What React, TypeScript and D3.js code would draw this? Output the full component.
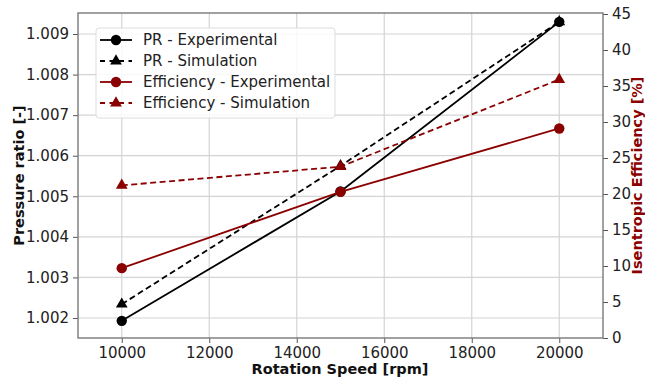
import React, { useEffect, useRef } from 'react';
import * as d3 from 'd3';

// data
const speeds = [10000, 15000, 20000];
const prExperimental = [1.00193, 1.00512, 1.0093];
const prSimulation = [1.00234, 1.00575, 1.0093];
const effExperimental = [9.7, 20.3, 29.1];
const effSimulation = [21.2, 23.8, 35.9];

const xTicks = [10000, 12000, 14000, 16000, 18000, 20000];
const prTicks = [1.002, 1.003, 1.004, 1.005, 1.006, 1.007, 1.008, 1.009];
const effTicks = [0, 5, 10, 15, 20, 25, 30, 35, 40, 45];

const legendLabels = ['PR - Experimental', 'PR - Simulation', 'Efficiency - Experimental', 'Efficiency - Simulation'];

const RED = '#8b0000';
const FONT = 'DejaVu Sans';

function App() {
	const ref = useRef<SVGSVGElement>(null);

	useEffect(() => {
		const svg = d3.select(ref.current);
		svg.selectAll('*').remove();

		const margin = { left: 78, right: 603, top: 13, bottom: 338 };

		const x = d3.scaleLinear().domain([9000, 21000]).range([margin.left, margin.right]);
		const yL = d3.scaleLinear().domain([1.001507, 1.009518]).range([margin.bottom, margin.top]);
		const yR = d3.scaleLinear().domain([0, 45.14]).range([margin.bottom, margin.top]);

		// grid
		const grid = svg.append('g');
		xTicks.forEach(t => {
			grid.append('line').attr('x1', x(t)).attr('x2', x(t)).attr('y1', margin.top).attr('y2', margin.bottom)
				.attr('stroke', '#d4d4d4').attr('stroke-width', 1.2);
		});
		prTicks.forEach(t => {
			grid.append('line').attr('x1', margin.left).attr('x2', margin.right).attr('y1', yL(t)).attr('y2', yL(t))
				.attr('stroke', '#d4d4d4').attr('stroke-width', 1.2);
		});

		// axes
		const bottomAxis = svg.append('g').attr('transform', `translate(0,${margin.bottom})`)
			.call(d3.axisBottom(x).tickValues(xTicks).tickFormat(d3.format('d')).tickSizeOuter(0).tickSize(5).tickPadding(4));
		const leftAxis = svg.append('g').attr('transform', `translate(${margin.left},0)`)
			.call(d3.axisLeft(yL).tickValues(prTicks).tickFormat(d3.format('.3f')).tickSizeOuter(0).tickSize(5).tickPadding(4));
		const rightAxis = svg.append('g').attr('transform', `translate(${margin.right},0)`)
			.call(d3.axisRight(yR).tickValues(effTicks).tickFormat(d3.format('d')).tickSizeOuter(0).tickSize(5).tickPadding(4));
		[bottomAxis, leftAxis, rightAxis].forEach(a => {
			a.selectAll('text').attr('font-family', FONT).attr('font-size', '15px').attr('fill', '#222');
			a.selectAll('line').attr('stroke', '#555');
			a.select('.domain').remove();
		});

		// frame
		svg.append('rect').attr('x', margin.left).attr('y', margin.top)
			.attr('width', margin.right - margin.left).attr('height', margin.bottom - margin.top)
			.attr('fill', 'none').attr('stroke', '#7a7a7a').attr('stroke-width', 1.4);

		// axis titles
		svg.append('text').attr('x', 340).attr('y', 374).attr('text-anchor', 'middle')
			.attr('font-family', FONT).attr('font-weight', 'bold').attr('font-size', '14.5px').attr('fill', '#111')
			.text('Rotation Speed [rpm]');
		svg.append('text').attr('transform', `translate(24,${(margin.top + margin.bottom) / 2}) rotate(-90)`)
			.attr('text-anchor', 'middle')
			.attr('font-family', FONT).attr('font-weight', 'bold').attr('font-size', '14.5px').attr('fill', '#111')
			.text('Pressure ratio [-]');
		svg.append('text').attr('transform', `translate(638,${(margin.top + margin.bottom) / 2}) rotate(-90)`)
			.attr('text-anchor', 'middle').attr('dominant-baseline', 'middle')
			.attr('font-family', FONT).attr('font-weight', 'bold').attr('font-size', '14.5px').attr('fill', RED)
			.text('Isentropic Efficiency [%]');

		const series = [
			{ vals: prExperimental, y: yL, color: '#000', dash: null, marker: 'circle' },
			{ vals: prSimulation, y: yL, color: '#000', dash: '6,3.5', marker: 'triangle' },
			{ vals: effExperimental, y: yR, color: RED, dash: null, marker: 'circle' },
			{ vals: effSimulation, y: yR, color: RED, dash: '6,3.5', marker: 'triangle' },
		];

		const circle = d3.symbol().type(d3.symbolCircle).size(85);
		const tri = d3.symbol().type(d3.symbolTriangle).size(60);

		const drawMarker = (g, mk, cx, cy, color) => {
			g.append('path').attr('d', mk === 'circle' ? circle() : tri())
				.attr('transform', `translate(${cx},${cy})`).attr('fill', color);
		};

		series.forEach(s => {
			const line = d3.line<number>().x((d, i) => x(speeds[i])).y(d => s.y(d));
			const g = svg.append('g');
			g.append('path').attr('d', line(s.vals)).attr('fill', 'none').attr('stroke', s.color)
				.attr('stroke-width', 1.8).attr('stroke-dasharray', s.dash);
			s.vals.forEach((v, i) => drawMarker(g, s.marker, x(speeds[i]), s.y(v), s.color));
		});

		// legend
		const lg = svg.append('g');
		lg.append('rect').attr('x', 96).attr('y', 28).attr('width', 239).attr('height', 90).attr('rx', 3)
			.attr('fill', 'rgba(255,255,255,0.85)').attr('stroke', '#ddd');
		legendLabels.forEach((lab, i) => {
			const s = series[i];
			const cy = 40 + i * 21;
			lg.append('line').attr('x1', 100).attr('x2', 132).attr('y1', cy).attr('y2', cy)
				.attr('stroke', s.color).attr('stroke-width', 1.8).attr('stroke-dasharray', s.dash ? '5,4.5' : null);
			drawMarker(lg, s.marker, 116, cy, s.color);
			lg.append('text').attr('x', 143).attr('y', cy).attr('dominant-baseline', 'central')
				.attr('font-family', FONT).attr('font-size', '15px').attr('fill', '#222').text(lab);
		});
	}, []);

	return (
		<svg ref={ref} width={645} height={378} style={{ position: 'absolute', left: 0, top: 0, background: '#fff' }} />
	);
}

export default App;
